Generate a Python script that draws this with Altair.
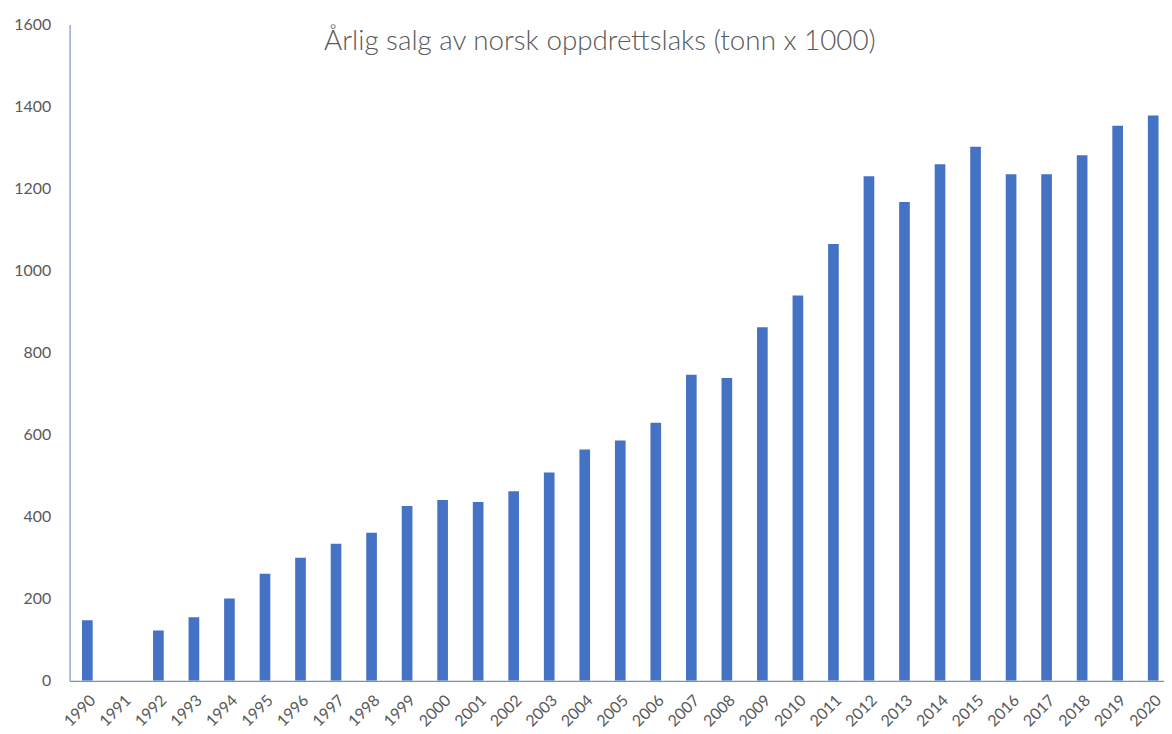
import altair as alt
import pandas as pd

years = [str(y) for y in range(1990, 2021)]
sales = [148, 0, 123, 155, 201, 261, 300, 334, 361, 426, 441, 436, 462, 508, 564,
         586, 629, 746, 738, 862, 939, 1065, 1230, 1167, 1259, 1302, 1235, 1235,
         1281, 1353, 1378]
y_ticks = [0, 200, 400, 600, 800, 1000, 1200, 1400, 1600]
title_text = "Årlig salg av norsk oppdrettslaks (tonn x 1000)"

df = pd.DataFrame({"year": years, "sales": sales})

W = 1102
H = 661

chart = alt.Chart(df).mark_bar(color="#4472C4", clip=True).encode(
    x=alt.X("year:O", title=None, sort=years,
            scale=alt.Scale(range=[0, 1109], paddingInner=0.7, paddingOuter=0.35),
            axis=alt.Axis(labelAngle=-45, labelFont="Lato", labelFontSize=16,
                          labelColor="#595959", ticks=False, labelPadding=11,
                          domainColor="#7391C4", domainWidth=1.2)),
    y=alt.Y("sales:Q", title=None,
            scale=alt.Scale(domain=[0, 1600], nice=False),
            axis=alt.Axis(values=y_ticks, grid=False, ticks=False, labelFont="Lato",
                          labelFontSize=16, labelColor="#595959", labelPadding=19,
                          format="d",
                          domainColor="#7391C4", domainWidth=1.2)),
).properties(
    width=W, height=H,
    autosize=alt.AutoSizeParams(type="none"),
    padding={"left": 62, "top": 14, "right": 0, "bottom": 50},
    title=alt.TitleParams(title_text, font="Lato", fontSize=28, fontWeight=300,
                          color="#595959", anchor="middle", frame="group",
                          dx=-17, dy=72, baseline="bottom"),
).configure_view(stroke=None)

chart.save("out.html", embed_options={"renderer": "svg", "actions": False})
